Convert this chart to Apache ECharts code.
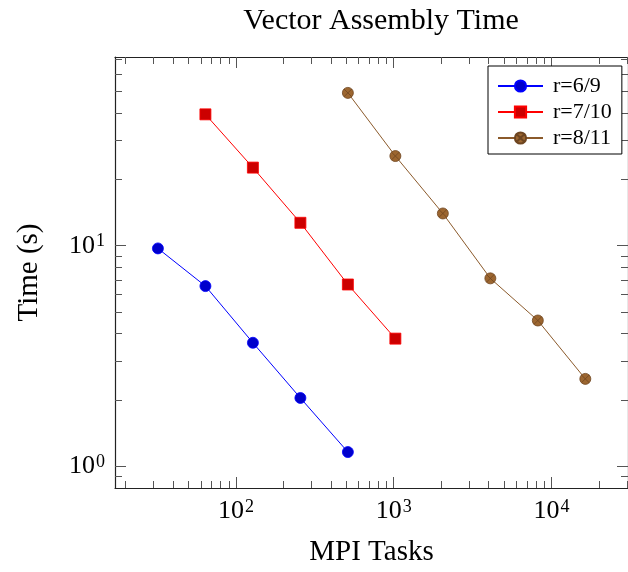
<!DOCTYPE html>
<html>
<head>
<meta charset="utf-8">
<script src="https://cdn.jsdelivr.net/npm/echarts@6/dist/echarts.min.js"></script>
<style>
  html, body { margin: 0; padding: 0; background: #fff; }
  #chart { width: 628px; height: 572px; }
</style>
</head>
<body>
<div id="chart"></div>
<script>
// MPI task counts and assembly times (s) per refinement level
const tasks69 = [32, 64, 128, 256, 512];
const time69 = [9.72, 6.56, 3.63, 2.04, 1.16];
const tasks710 = [64, 128, 256, 512, 1024];
const time710 = [39.4, 22.6, 12.7, 6.67, 3.79];
const tasks811 = [512, 1024, 2048, 4096, 8192, 16384];
const time811 = [49.3, 25.5, 14.0, 7.11, 4.58, 2.49];

const xMajor = [100, 1000, 10000];
const xMinor = [20, 30, 40, 50, 60, 70, 80, 90, 200, 300, 400, 500, 600, 700, 800, 900,
  2000, 3000, 4000, 5000, 6000, 7000, 8000, 9000, 20000, 30000];
const yMajor = [1, 10];
const yMinor = [0.9, 2, 3, 4, 5, 6, 7, 8, 9, 20, 30, 40, 50, 60, 70];

const xRange = [17.1, 30550];
const yRange = [0.797, 71.7];

const FONT = "Liberation Serif";

const pairs = (xs, ys) => xs.map((x, i) => [x, ys[i]]);
const otimes = "path://M10,0 A10,10 0 1,1 10,20 A10,10 0 1,1 10,0 Z M2.93,2.93 L17.07,17.07 M2.93,17.07 L17.07,2.93";

const supLabel = {
  fontFamily: FONT,
  color: "#000",
  formatter: (v) => "{b|10}{s|" + Math.round(Math.log10(v)) + "}",
  rich: {
    b: { fontFamily: FONT, fontSize: 26, color: "#000" },
    s: { fontFamily: FONT, fontSize: 18, color: "#000", verticalAlign: "top", padding: [0, 0, 0, 1] },
  },
};

// one log axis per tick set, so major and minor ticks can have their own length
const makeAxis = (pos, range, ticks, len, label, line, extra) => Object.assign({
  type: "log",
  logBase: 10,
  position: pos,
  min: range[0],
  max: range[1],
  splitLine: { show: false },
  axisLine: { show: line, onZero: false, lineStyle: { color: "#222", width: 1.2 } },
  axisTick: { show: true, inside: true, length: len, customValues: ticks, lineStyle: { color: "#555", width: 1 } },
  axisLabel: label ? Object.assign({ customValues: ticks }, label) : { show: false },
}, extra || {});

const chart = echarts.init(document.getElementById("chart"));

const option = {
  animation: false,
  backgroundColor: "#fff",
  title: {
    text: "Vector Assembly Time",
    left: 376,
    textAlign: "center",
    top: 1,
    textStyle: { fontFamily: FONT, fontSize: 30, fontWeight: "normal", color: "#000" },
  },
  grid: { left: 115, right: -5, top: 57, bottom: 84 },
  xAxis: [
    makeAxis("bottom", xRange, xMajor, 11, Object.assign({ margin: 10 }, supLabel), true, {
      name: "MPI Tasks",
      nameLocation: "middle",
      nameGap: 50,
      nameTextStyle: { fontFamily: FONT, fontSize: 29, color: "#000" },
    }),
    makeAxis("bottom", xRange, xMinor, 7, null, false),
    makeAxis("top", xRange, xMajor, 11, null, true),
    makeAxis("top", xRange, xMinor, 7, null, false),
  ],
  yAxis: [
    makeAxis("left", yRange, yMajor, 11, Object.assign({ margin: 10 }, supLabel), true, {
      name: "Time (s)",
      nameLocation: "middle",
      nameGap: 71,
      nameTextStyle: { fontFamily: FONT, fontSize: 29, color: "#000" },
    }),
    makeAxis("left", yRange, yMinor, 7, null, false),
    makeAxis("right", yRange, yMajor, 11, null, true),
    makeAxis("right", yRange, yMinor, 7, null, false),
  ],
  legend: {
    orient: "vertical",
    left: 488,
    top: 66,
    padding: [9, 10, 5, 9],
    itemWidth: 45,
    itemHeight: 14,
    itemGap: 4,
    borderColor: "#000",
    borderWidth: 1,
    backgroundColor: "#fff",
    textStyle: { fontFamily: FONT, fontSize: 22, color: "#000", padding: [0, 0, 0, 5] },
  },
  series: [
    {
      name: "r=6/9",
      type: "line",
      data: pairs(tasks69, time69),
      symbol: "circle",
      symbolSize: 11,
      lineStyle: { color: "#0000ff", width: 1 },
      itemStyle: { color: "#0000cc", borderColor: "#0000ff", borderWidth: 0.8 },
    },
    {
      name: "r=7/10",
      type: "line",
      data: pairs(tasks710, time710),
      symbol: "rect",
      symbolSize: 11,
      lineStyle: { color: "#ff0000", width: 1 },
      itemStyle: { color: "#cc0000", borderColor: "#ff0000", borderWidth: 0.8 },
    },
    {
      name: "r=8/11",
      type: "line",
      data: pairs(tasks811, time811),
      symbol: otimes,
      symbolSize: 11,
      lineStyle: { color: "#8b5a2b", width: 1 },
      itemStyle: { color: "#9c6630", borderColor: "#6e4520", borderWidth: 0.8 },
    },
  ],
};

chart.setOption(option);
</script>
</body>
</html>
